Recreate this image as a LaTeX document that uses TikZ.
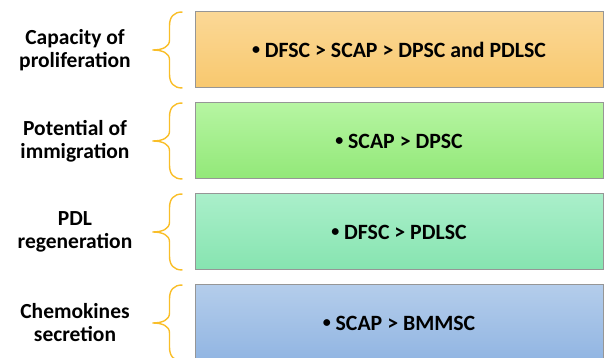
\documentclass[tikz,border=0pt]{standalone}
\usepackage{fontspec}
\setmainfont{Carlito}
\usetikzlibrary{positioning}

\definecolor{braceGold}{RGB}{249,190,40}
\definecolor{edgeGray}{RGB}{150,150,150}
\definecolor{orangeTop}{RGB}{251,216,150}
\definecolor{orangeBot}{RGB}{248,200,110}
\definecolor{greenTop}{RGB}{182,245,162}
\definecolor{greenBot}{RGB}{146,232,120}
\definecolor{mintTop}{RGB}{170,239,202}
\definecolor{mintBot}{RGB}{134,228,176}
\definecolor{blueTop}{RGB}{180,205,235}
\definecolor{blueBot}{RGB}{145,181,226}

\newcommand{\smallbullet}{\raisebox{2.6pt}{\fontsize{16}{16}\selectfont\textbullet}}

\begin{document}
\begin{tikzpicture}[x=1pt,y=1pt,
  box/.style={draw=edgeGray, line width=1pt, minimum width=408pt, minimum height=76pt,
    inner sep=0pt, font=\bfseries\fontsize{21.8}{23}\selectfont},
  lbl/.style={align=center, font=\bfseries\fontsize{21.5}{23}\selectfont},
  brc/.style={draw=braceGold, line width=1.4pt},
  lbrace/.pic={\draw[brc] (0,38) .. controls (-9,38) and (-13,33) .. (-13,24) -- (-13,10)
    .. controls (-13,3) and (-20,0) .. (-30,0) .. controls (-20,0) and (-13,-3) .. (-13,-10)
    -- (-13,-24) .. controls (-13,-33) and (-9,-38) .. (0,-38);},
  node distance=14pt]
\useasboundingbox (0,0) rectangle (605,358);

% Boxes
\node[box, top color=orangeTop, bottom color=orangeBot] (b1) at (399,308) {\smallbullet\ DFSC > SCAP > DPSC and PDLSC};
\node[box, top color=greenTop, bottom color=greenBot, below=of b1] (b2) {\smallbullet\ SCAP > DPSC};
\node[box, top color=mintTop, bottom color=mintBot, below=of b2] (b3) {\smallbullet\ DFSC > PDLSC};
\node[box, top color=blueTop, bottom color=blueBot, below=of b3] (b4) {\smallbullet\ SCAP > BMMSC};

% Braces
\foreach \b in {b1,b2,b3,b4} {
  \pic at ([xshift=-12pt]\b.west) {lbrace};
}

% Labels
\coordinate (lx) at (75,0);
\node[lbl] (l1) at (b1 -| lx) {Capacity of\\proliferation};
\node[lbl] (l2) at (b2 -| lx) {Potential of\\immigration};
\node[lbl] (l3) at (b3 -| lx) {PDL\\regeneration};
\node[lbl] (l4) at (b4 -| lx) {Chemokines\\secretion};
\end{tikzpicture}
\end{document}
